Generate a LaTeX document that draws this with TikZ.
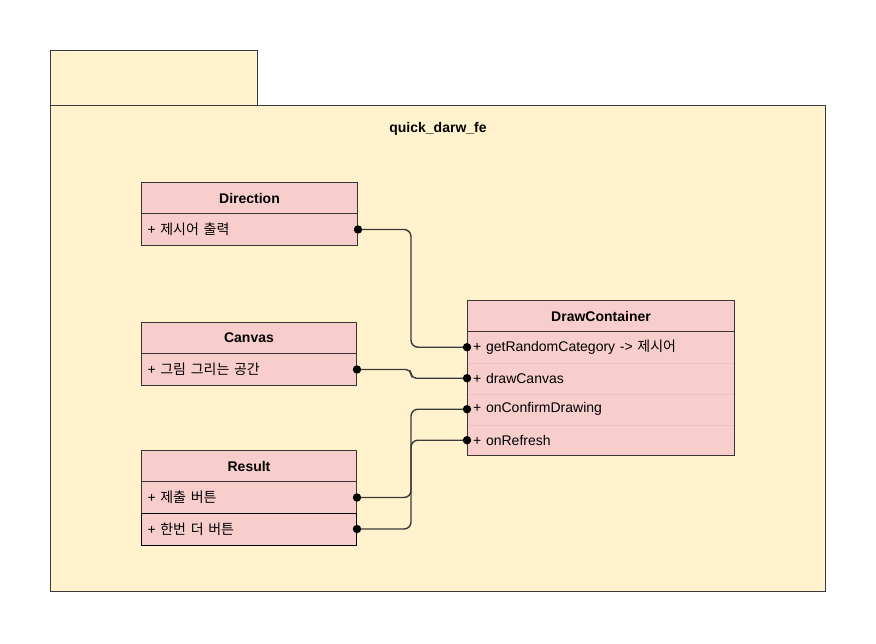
\documentclass[tikz,border=0pt]{standalone}
\usepackage{fontspec}
\setmainfont{Liberation Sans}
\newfontfamily\kr{Noto Sans CJK KR}
\definecolor{pkgfill}{HTML}{FFF2CC}
\definecolor{pkgline}{HTML}{36393D}
\definecolor{clsfill}{HTML}{F8CECC}
\definecolor{clsline}{HTML}{3A3535}
\definecolor{rowsep}{HTML}{EDC2C0}
\definecolor{wire}{HTML}{3A3A3A}
\begin{document}
\begin{tikzpicture}[x=1pt,y=-1pt,
  every node/.style={font=\fontsize{14pt}{16pt}\selectfont, inner sep=0pt},
  pkg/.style={fill=pkgfill, draw=pkgline, line width=1pt},
  clshead/.style={rectangle, anchor=north west, fill=clsfill, draw=clsline, line width=1pt,
    minimum height=31pt, font=\fontsize{14pt}{16pt}\selectfont\bfseries},
  clsrow/.style={rectangle, anchor=north west, fill=clsfill, draw=clsline, line width=1pt,
    minimum height=32pt, align=left, inner xsep=6pt},
  dcrow/.style={rectangle, anchor=north west, fill=clsfill, draw=none,
    minimum height=31pt, minimum width=267pt, text width=255pt, align=left, inner xsep=6pt},
  conn/.style={draw=wire, line width=1.4pt, rounded corners=7pt},
  pin/.style={fill=black}
]
\useasboundingbox (0,0) rectangle (876,643);

% package frame with its tab
\draw[pkg] (50,50) rectangle (257,105);
\draw[pkg] (50,105) rectangle (825,591);
\node[font=\fontsize{14pt}{16pt}\selectfont\bfseries] (pkgname) at (438,129) {quick\_darw\_fe};

% Direction
\node[clshead, minimum width=216pt] (dirH) at (141,182) {Direction};
\node[clsrow, minimum width=216pt, text width=204pt] (dirR) at (141,213) {+ {\kr 제시어 출력}};

% Canvas
\node[clshead, minimum width=215pt] (canH) at (141,322) {Canvas};
\node[clsrow, minimum width=215pt, text width=203pt] (canR) at (141,353) {+ {\kr 그림 그리는 공간}};

% Result
\node[clshead, minimum width=215pt] (resH) at (141,450) {Result};
\node[clsrow, minimum width=215pt, text width=203pt] (resA) at (141,481) {+ {\kr 제출 버튼}};
\node[clsrow, draw=black, minimum width=215pt, text width=203pt] (resB) at (141,512.5) {+ {\kr 한번 더 버튼}};

% DrawContainer
\node[clshead, minimum width=267pt] (dcH) at (467,300) {DrawContainer};
\node[dcrow] (dcA) at (467,331.5) {+ getRandomCategory -> {\kr 제시어}};
\node[dcrow] (dcB) at (467,362.5) {+ drawCanvas};
\node[dcrow] (dcC) at (467,393.5) {+ onConfirmDrawing};
\node[dcrow] (dcD) at (467,424.5) {+ onRefresh};
\draw[rowsep, line width=0.8pt] (dcA.south west) -- (dcA.south east);
\draw[rowsep, line width=0.8pt] (dcB.south west) -- (dcB.south east);
\draw[rowsep, line width=0.8pt] (dcC.south west) -- (dcC.south east);
\draw[clsline, line width=1pt] (dcA.north west) rectangle (dcD.south east);

% wiring
\coordinate (bus) at (411,0);
\draw[conn] (dirR.east) -- (dirR.east -| bus) |- (dcA.west);
\draw[conn, rounded corners=5pt] (canR.east) -- (canR.east -| bus) |- (dcB.west);
\draw[conn] (resA.east) -- (resA.east -| bus) |- (dcC.west);
\draw[conn] (resB.east) -- (resB.east -| bus) |- (dcD.west);

\foreach \p in {dirR.east, canR.east, resA.east, resB.east, dcA.west, dcB.west, dcC.west, dcD.west}
  \fill[pin] (\p) circle (4.2pt);
\end{tikzpicture}
\end{document}
